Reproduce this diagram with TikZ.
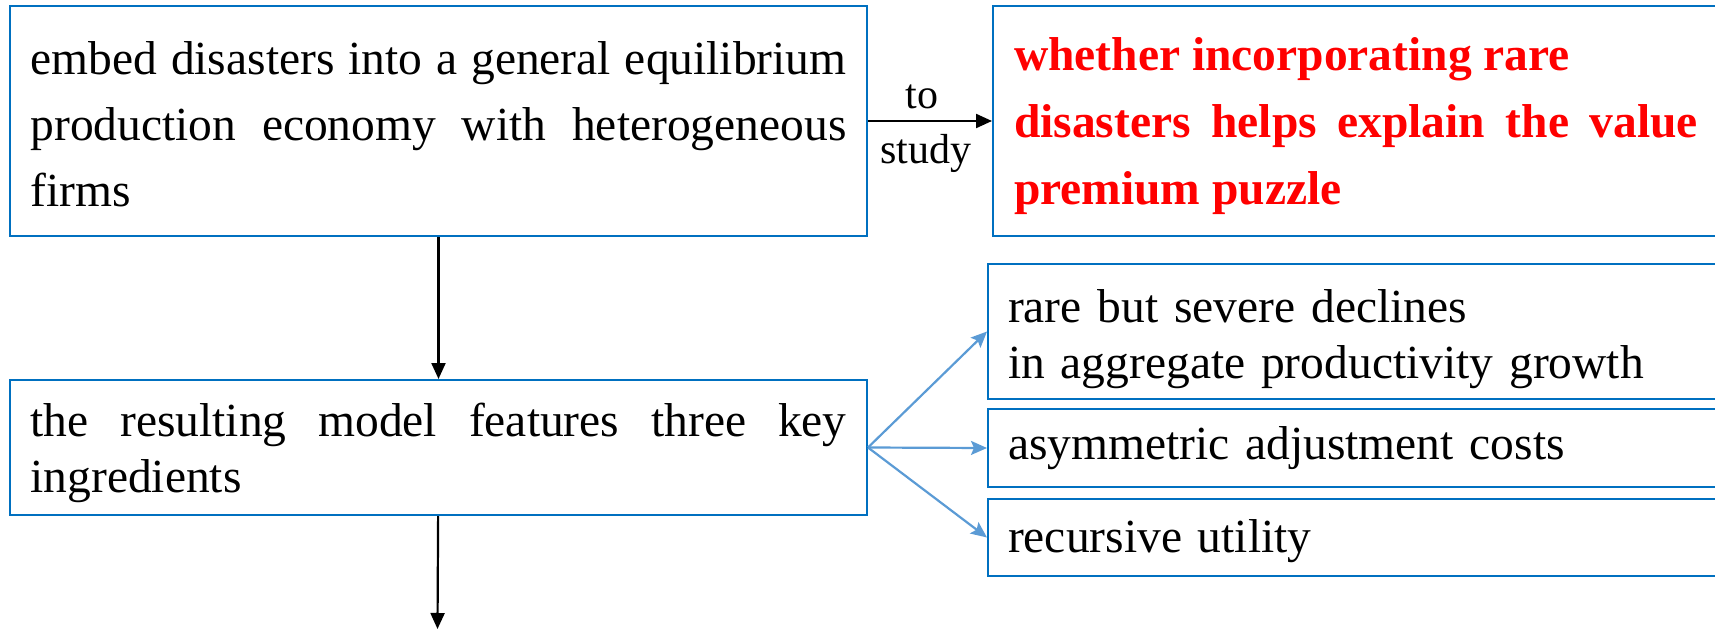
\documentclass[tikz,border=0pt]{standalone}
\usepackage{fontspec}
\setmainfont{Liberation Serif}
\usepackage{tikz}
\usetikzlibrary{arrows.meta}
\definecolor{boxblue}{RGB}{0,112,192}
\definecolor{arrowblue}{RGB}{91,155,213}
\setlength{\parindent}{0pt}

\begin{document}
\begin{tikzpicture}[x=1pt, y=-1pt,
    box_node/.style={draw=boxblue, line width=2pt, anchor=north west, inner xsep=20.5pt, inner ysep=0pt, font=\fontsize{47.5}{56}\selectfont},
    side_node/.style={box_node, text width=720pt, inner xsep=20pt, align=left},
    main_arrow/.style={line width=2.2pt, -{Triangle[length=16pt, width=14pt]}},
    side_arrow/.style={draw=arrowblue, line width=2.2pt, -{Stealth[length=16pt, width=14pt, inset=3pt]}},
    label_node/.style={inner sep=0pt, font=\fontsize{42}{50}\selectfont}]

    \useasboundingbox (0, 0) rectangle (1715, 629);
    \clip (0, 0) rectangle (1715, 629);

    \node[box_node, text width=816pt, text height=38.5pt, minimum height=230pt, align=justify, font=\fontsize{47.5}{66}\selectfont] (1) at (9, 5) {embed disasters into a general equilibrium\linebreak production economy with heterogeneous\linebreak firms};
    \node[box_node, text width=684pt, text height=43pt, inner xsep=21pt, minimum height=230pt, align=justify, text=red, font=\bfseries\fontsize{47.5}{67}\selectfont] (2) at (992, 5) {whether incorporating rare\newline disasters helps explain the value\linebreak premium puzzle};
    \node[box_node, text width=816pt, text height=44.5pt, minimum height=135pt, align=justify] (3) at (9, 379) {the resulting model features three key\linebreak ingredients};
    \node[side_node, text height=47.5pt, minimum height=135pt] (4) at (987, 263) {rare but severe declines\\ in aggregate productivity growth};
    \node[side_node, text height=34pt, minimum height=78pt] (5) at (987, 408) {asymmetric adjustment costs};
    \node[side_node, text height=40pt, minimum height=77pt] (6) at (987, 498) {recursive utility};
    \coordinate (7) at (437.5, 629);

    \draw[main_arrow] (1) -- node[label_node, above=11pt, xshift=-8pt] {to} node[label_node, below=12pt, xshift=-4pt] {study} (2);
    \draw[main_arrow] (1) -- (3);
    \draw[main_arrow] (3) -- (7);
    \draw[side_arrow] (3.east) -- (4.west);
    \draw[side_arrow] (3.east) -- (5.west);
    \draw[side_arrow] (3.east) -- (6.west);
\end{tikzpicture}
\end{document}
